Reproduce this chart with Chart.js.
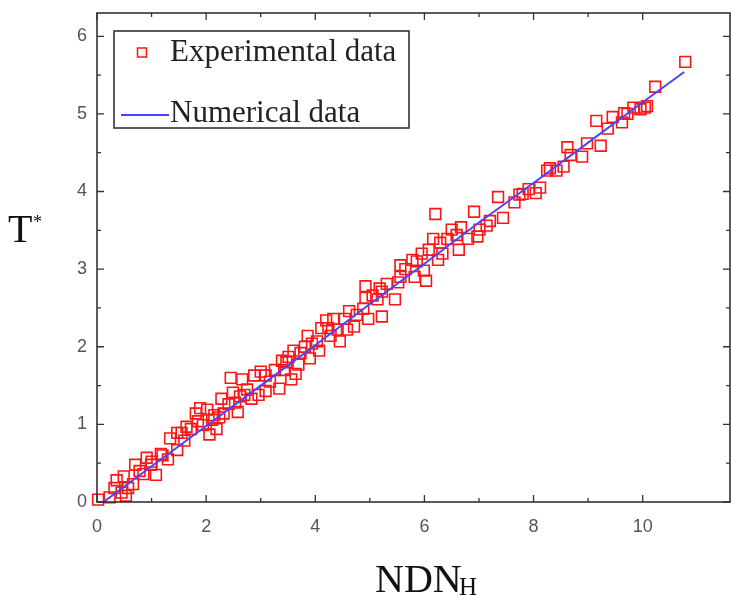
<!DOCTYPE html>
<html>
<head>
<meta charset="utf-8">
<script src="https://cdn.jsdelivr.net/npm/chart.js@4.4.1/dist/chart.umd.min.js"></script>
<style>
  html, body { margin: 0; padding: 0; background: #ffffff; }
  #wrap { width: 731px; height: 596px; position: relative; }
</style>
</head>
<body>
<div id="wrap"><canvas id="c" width="731" height="596"></canvas></div>
<script>
// ---- Data ----
const expX = [10.78, 10.23, 10.04, 9.96, 9.83, 9.66, 9.62, 9.45, 9.36, 9.15, 9.23, 8.98, 8.89, 8.68, 8.62,
  8.55, 8.42, 8.25, 8.12, 8.04, 7.91, 7.74, 7.65, 7.44, 7.35, 7.14, 7.01, 6.97, 6.91, 6.80, 6.67, 6.63,
  6.50, 6.42, 6.33, 6.25, 6.20, 6.16, 6.08, 6.03, 5.99, 5.95, 5.82, 5.78, 5.65, 5.56, 5.52, 5.46, 5.22,
  5.18, 5.14, 5.22, 4.97, 4.92, 4.92, 4.88, 4.71, 4.62, 4.58, 4.45, 4.41, 4.33, 4.28, 4.20, 4.11, 4.07,
  4.03, 3.90, 3.86, 3.81, 3.69, 3.64, 3.60, 3.56, 3.47, 3.39, 3.34, 3.26, 3.17, 3.09, 3.00, 2.88, 2.83,
  2.70, 2.66, 2.58, 2.49, 2.45, 2.41, 2.32, 2.28, 2.19, 2.11, 2.06, 2.02, 1.89, 1.85, 1.81, 1.72, 1.60,
  1.55, 1.47, 1.34, 1.30, 1.17, 1.08, 0.99, 0.91, 0.78, 0.70, 0.66, 0.57, 0.53, 0.49, 0.36, 0.32, 0.23,
  0.02, 1.47, 1.64, 1.94, 2.24, 2.53, 2.62, 2.96, 3.09, 3.43, 3.51, 3.73, 3.94, 4.24, 4.54, 4.76, 5.05,
  5.31, 5.56, 5.86, 6.29, 6.59, 10.08, 9.72, 8.30, 7.80, 7.20, 1.00, 1.20, 0.85, 0.45, 2.15, 2.75];
const expY = [5.67, 5.35, 5.08, 5.06, 5.08, 5.01, 4.89, 4.96, 4.81, 4.91, 4.59, 4.62, 4.45, 4.47, 4.57,
  4.32, 4.27, 4.27, 4.05, 3.98, 4.03, 3.96, 3.86, 3.66, 3.93, 3.56, 3.51, 3.42, 3.74, 3.39, 3.54, 3.25,
  3.51, 3.39, 3.20, 3.12, 3.71, 3.39, 3.25, 2.85, 2.98, 3.20, 2.90, 3.12, 3.00, 2.90, 2.83, 2.61, 2.71,
  2.75, 2.61, 2.39, 2.36, 2.78, 2.63, 2.49, 2.26, 2.46, 2.22, 2.07, 2.22, 2.36, 2.14, 2.34, 2.24, 1.95,
  2.07, 1.85, 2.14, 2.00, 1.77, 1.65, 1.95, 1.58, 1.80, 1.82, 1.46, 1.70, 1.55, 1.43, 1.68, 1.63, 1.33,
  1.38, 1.58, 1.16, 1.41, 1.60, 1.26, 1.14, 1.33, 0.94, 1.06, 0.87, 1.19, 1.21, 1.04, 1.14, 0.94, 0.79,
  0.89, 0.67, 0.82, 0.55, 0.62, 0.35, 0.48, 0.57, 0.40, 0.48, 0.23, 0.18, 0.08, 0.33, 0.28, 0.18, 0.06,
  0.03, 0.89, 0.97, 0.99, 1.09, 1.28, 1.36, 1.38, 1.63, 1.70, 1.87, 1.92, 2.04, 2.24, 2.36, 2.41, 2.66,
  2.81, 3.05, 3.10, 3.34, 3.44, 5.10, 5.00, 4.30, 3.97, 3.62, 0.52, 0.60, 0.36, 0.12, 1.12, 1.45];
const numX = [0.12, 1, 2, 3, 4, 5, 6, 7, 8, 9, 10, 10.76];
const numY = [0.0, 0.46, 0.98, 1.50, 2.02, 2.55, 3.07, 3.60, 4.11, 4.63, 5.15, 5.54];
const seriesNames = ['Experimental data', 'Numerical data'];
const xMajorTicks = [0, 2, 4, 6, 8, 10];
const yMajorTicks = [0, 1, 2, 3, 4, 5, 6];

const expPoints = expX.map((x, i) => ({ x: x, y: expY[i] }));
const numPoints = numX.map((x, i) => ({ x: x, y: numY[i] }));

const RED = 'rgb(255,20,20)';
const BLUE = 'rgb(70,70,255)';
const FRAME = '#333333';

function zeroPad(s) {
  s.paddingTop = 0; s.paddingBottom = 0; s.paddingLeft = 0; s.paddingRight = 0;
}

const framePlugin = {
  id: 'framePlugin',
  afterDatasetsDraw(chart) {
    const { ctx, chartArea: a, scales } = chart;
    const xs = scales.x, ys = scales.y;
    ctx.save();
    ctx.strokeStyle = FRAME;
    ctx.lineWidth = 1.6;
    ctx.strokeRect(a.left, a.top, a.right - a.left, a.bottom - a.top);
    ctx.lineWidth = 1.3;
    ctx.beginPath();
    xs.ticks.forEach(t => {
      const v = t.value;
      if (Math.abs(v - Math.round(v)) > 1e-6) return;
      const len = xMajorTicks.includes(Math.round(v)) ? 7 : 4;
      const px = xs.getPixelForValue(v);
      ctx.moveTo(px, a.bottom); ctx.lineTo(px, a.bottom - len);
      ctx.moveTo(px, a.top); ctx.lineTo(px, a.top + len);
    });
    ys.ticks.forEach(t => {
      const v = t.value;
      if (Math.abs(v * 2 - Math.round(v * 2)) > 1e-6) return;
      const len = Math.abs(v - Math.round(v)) < 1e-6 ? 7 : 4;
      const py = ys.getPixelForValue(v);
      ctx.moveTo(a.left, py); ctx.lineTo(a.left + len, py);
      ctx.moveTo(a.right, py); ctx.lineTo(a.right - len, py);
    });
    ctx.stroke();
    ctx.restore();
  },
  afterDraw(chart) {
    const { ctx } = chart;
    ctx.save();
    const bx = 114, by = 31, bw = 295, bh = 97;
    ctx.fillStyle = '#ffffff';
    ctx.fillRect(bx, by, bw, bh);
    ctx.strokeStyle = FRAME;
    ctx.lineWidth = 1.6;
    ctx.strokeRect(bx, by, bw, bh);
    ctx.strokeStyle = RED;
    ctx.lineWidth = 1.5;
    ctx.strokeRect(137.5, 48, 9, 9);
    ctx.strokeStyle = BLUE;
    ctx.lineWidth = 2;
    ctx.beginPath(); ctx.moveTo(121, 115); ctx.lineTo(169, 115); ctx.stroke();
    ctx.fillStyle = '#222222';
    ctx.font = '31px "Liberation Serif", "Times New Roman", serif';
    ctx.textBaseline = 'alphabetic';
    ctx.textAlign = 'left';
    ctx.fillText(chart.data.datasets[0].label, 170, 61);
    ctx.fillText(chart.data.datasets[1].label, 170, 122);

    ctx.fillStyle = '#111111';
    ctx.font = '40px "Liberation Serif", "Times New Roman", serif';
    ctx.fillText('NDN', 375, 592);
    ctx.font = '25px "Liberation Serif", "Times New Roman", serif';
    ctx.fillText('H', 459, 595);
    ctx.font = '40px "Liberation Serif", "Times New Roman", serif';
    ctx.fillText('T', 8, 242);
    ctx.font = '18px "Liberation Serif", "Times New Roman", serif';
    ctx.fillText('*', 33, 228);
    ctx.restore();
  }
};

new Chart(document.getElementById('c'), {
  type: 'scatter',
  data: {
    datasets: [
      {
        label: seriesNames[0],
        data: expPoints,
        showLine: false,
        pointStyle: 'rect',
        pointRadius: 7.6,
        pointHoverRadius: 7.6,
        borderColor: RED,
        backgroundColor: 'rgba(0,0,0,0)',
        borderWidth: 1.6,
        clip: false,
        order: 2
      },
      {
        label: seriesNames[1],
        data: numPoints,
        showLine: true,
        pointRadius: 0,
        borderColor: BLUE,
        borderWidth: 2,
        fill: false,
        tension: 0,
        order: 1
      }
    ]
  },
  options: {
    responsive: false,
    animation: false,
    events: [],
    layout: { autoPadding: false, padding: { left: 0, top: 13, right: 1, bottom: 0 } },
    plugins: { legend: { display: false }, tooltip: { enabled: false }, title: { display: false } },
    scales: {
      x: {
        type: 'linear',
        min: 0, max: 11.6,
        grid: { display: false, drawTicks: false },
        border: { display: false },
        ticks: {
          stepSize: 1,
          autoSkip: false,
          maxRotation: 0,
          padding: 14,
          color: '#555555',
          font: { family: '"Liberation Sans", Arial, sans-serif', size: 18 },
          callback: v => xMajorTicks.includes(v) ? String(v) : ''
        },
        afterFit: s => { s.height = 94; zeroPad(s); }
      },
      y: {
        type: 'linear',
        min: 0, max: 6.3,
        grid: { display: false, drawTicks: false },
        border: { display: false },
        ticks: {
          stepSize: 0.5,
          autoSkip: false,
          padding: 10,
          color: '#555555',
          font: { family: '"Liberation Sans", Arial, sans-serif', size: 18 },
          callback: v => yMajorTicks.includes(v) ? String(v) : ''
        },
        afterFit: s => { s.width = 97; zeroPad(s); }
      }
    }
  },
  plugins: [framePlugin]
});
</script>
</body>
</html>
